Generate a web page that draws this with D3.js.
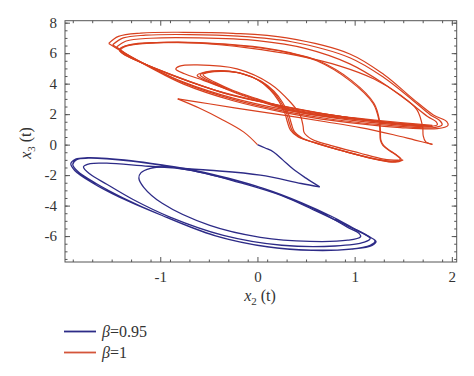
<!DOCTYPE html>
<html><head><meta charset="utf-8">
<script src="https://cdn.jsdelivr.net/npm/d3@7"></script>
<style>
html,body{margin:0;padding:0;background:#fff;}
svg{display:block;}
svg text{font-family:"Times New Roman","Liberation Serif",Tinos,"DejaVu Serif",serif !important;}
</style></head>
<body><svg id="c" width="474" height="376"></svg>
<script>
// ---------- data (x2, x3) ----------
const xTickValues = [-1, 0, 1, 2];
const yTickValues = [-6, -4, -2, 0, 2, 4, 6, 8];
const legendLabels = ["0.95", "1"];

// beta = 0.95
const blueTransient = [[0,0],[0.08,-0.22],[0.165,-0.48],[0.26,-1.0],[0.37,-1.62],[0.5,-2.2],[0.64,-2.77]];
const blueMiddle = [[0.64,-2.77],[0.45,-2.55],[0.03,-2.0],[-0.49,-1.68],[-1.12,-1.42],[-1.55,-1.22],[-1.72,-1.25],[-1.79,-1.46],[-1.72,-1.95],[-1.55,-2.6],[-1.28,-3.6],[-0.9,-4.75],[-0.35,-5.95],[0.25,-6.6],[0.8,-6.65],[1.1,-6.4],[1.16,-6.15],[1.08,-5.8],[0.9,-5.25],[0.6,-4.35],[0.25,-3.35],[-0.15,-2.55],[-0.6,-1.8],[-0.95,-1.45]];
const blueInner = [[-0.95,-1.45],[-1.1,-1.55],[-1.2,-1.85],[-1.22,-2.2],[-1.17,-2.8],[-0.98,-3.85],[-0.49,-5.3],[0.03,-6.08],[0.54,-6.35],[0.93,-6.27],[1.06,-6.05],[1.05,-5.85],[0.92,-5.4],[0.7,-4.6],[0.4,-3.7],[0.05,-2.85],[-0.3,-2.2],[-0.62,-1.72],[-1.0,-1.32],[-1.3,-1.05],[-1.55,-0.9],[-1.75,-0.86],[-1.87,-0.95],[-1.92,-1.25],[-1.88,-1.7],[-1.7,-2.5],[-1.42,-3.45],[-1.0,-4.6],[-0.45,-5.95],[0.1,-6.7],[0.55,-6.92],[0.95,-6.85],[1.16,-6.6],[1.21,-6.32],[1.14,-6.0],[0.98,-5.45],[0.76,-4.7],[0.45,-3.8],[0.1,-2.95],[-0.3,-2.25],[-0.6,-1.8],[-1.0,-1.35],[-1.3,-1.08],[-1.55,-0.93],[-1.74,-0.89],[-1.86,-0.98],[-1.9,-1.3],[-1.85,-1.75],[-1.66,-2.55],[-1.38,-3.5],[-0.98,-4.65],[-0.43,-5.98],[0.12,-6.72],[0.57,-6.94],[0.97,-6.86],[1.18,-6.62],[1.22,-6.35],[1.15,-6.05],[0.99,-5.5],[0.8,-4.85]];

// beta = 1
const redTransient = [[0,0],[-0.14,0.82],[-0.38,1.7],[-0.6,2.4],[-0.82,3.0]];
const redTipLine = [[-0.82,3.0],[-0.5,2.68],[-0.1,2.28],[0.3,1.9],[0.7,1.5],[1.06,1.12],[1.4,0.65],[1.62,0.3],[1.8,0.02]];
const redArcC = [[1.8,0.02],[1.73,0.2],[1.705,0.6],[1.7,1.15],[1.64,2.3],[1.47,3.25],[1.2,4.3],[0.85,5.15],[0.4,5.85],[-0.1,6.35],[-0.6,6.65],[-1.05,6.7],[-1.32,6.55],[-1.42,6.25],[-1.38,5.95],[-1.2,5.4],[-0.9,4.6],[-0.5,3.7],[-0.1,3.02],[0.3,2.45],[0.8,1.9],[1.3,1.45],[1.7,1.2]];
const redLoopA = [[-1.53,6.64],[-1.43,7.1],[-1.2,7.32],[-0.76,7.37],[-0.25,7.3],[0.3,7.0],[0.95,5.95],[1.3,4.6],[1.6,3.0],[1.81,1.95],[1.95,1.5],[1.96,1.25],[1.85,1.05],[1.47,1.12],[0.78,1.57],[0.27,2.12],[-0.25,2.88],[-0.76,3.97],[-1.1,5.05],[-1.38,6.05],[-1.53,6.64]];
const redLoopB = [[-1.49,6.55],[-1.38,7.0],[-1.15,7.18],[-0.7,7.22],[-0.2,7.12],[0.35,6.75],[0.95,5.7],[1.3,4.4],[1.6,2.9],[1.78,1.95],[1.88,1.55],[1.9,1.3],[1.82,1.12],[1.47,1.2],[0.78,1.65],[0.27,2.2],[-0.25,2.97],[-0.76,4.05],[-1.1,5.1],[-1.36,6.0],[-1.49,6.55]];
const redLoop3 = [[-1.45,6.4],[-1.35,6.8],[-1.1,6.98],[-0.6,7.0],[0.0,6.82],[0.5,6.3],[0.95,5.3],[1.3,4.0],[1.58,2.7],[1.75,1.85],[1.84,1.5],[1.85,1.3],[1.76,1.18],[1.47,1.28],[0.78,1.75],[0.27,2.3],[-0.25,3.05],[-0.76,4.1],[-1.1,5.1],[-1.35,5.95],[-1.45,6.4]];
const redInner1 = [[1.8,1.18],[1.47,1.35],[1.0,1.65],[0.6,1.95],[0.3,2.3],[0.0,2.9],[-0.25,3.45],[-0.45,4.0],[-0.58,4.35],[-0.62,4.55],[-0.55,4.75],[-0.38,4.86],[-0.2,4.72],[0.0,4.25],[0.13,3.6],[0.22,2.85],[0.28,2.1],[0.31,1.45],[0.34,0.95],[0.42,0.5],[0.6,0.1],[0.9,-0.45],[1.2,-0.92],[1.38,-1.08],[1.47,-0.95],[1.43,-0.7],[1.36,-0.4],[1.29,-0.05],[1.265,0.3],[1.26,0.9],[1.25,1.6],[1.19,2.7],[0.95,4.2],[0.61,5.5],[0.3,6.05],[-0.07,6.42],[-0.6,6.68],[-1.1,6.65],[-1.35,6.45],[-1.41,6.16],[-1.3,5.7],[-1.05,5.0],[-0.7,4.15],[-0.3,3.3],[0.2,2.6],[0.7,2.0],[1.2,1.55],[1.6,1.3],[1.8,1.18]];
const redInner2 = [[1.8,1.22],[1.47,1.4],[1.0,1.7],[0.6,2.0],[0.3,2.35],[0.0,2.95],[-0.25,3.5],[-0.45,4.05],[-0.56,4.4],[-0.59,4.58],[-0.52,4.76],[-0.36,4.84],[-0.18,4.7],[0.02,4.2],[0.15,3.55],[0.24,2.8],[0.3,2.05],[0.33,1.4],[0.36,0.9],[0.44,0.47],[0.62,0.07],[0.92,-0.48],[1.22,-0.96],[1.4,-1.12],[1.48,-0.98],[1.44,-0.72],[1.37,-0.42],[1.3,-0.06],[1.27,0.3],[1.265,0.9],[1.255,1.6],[1.2,2.7],[0.97,4.2],[0.63,5.5],[0.32,6.05],[-0.05,6.44],[-0.6,6.7],[-1.1,6.67],[-1.36,6.47],[-1.42,6.18],[-1.31,5.72],[-1.06,5.02],[-0.71,4.17],[-0.31,3.32],[0.19,2.62],[0.69,2.02],[1.19,1.57],[1.6,1.32],[1.8,1.22]];
const redInner3 = [[1.8,1.26],[1.47,1.45],[1.0,1.75],[0.6,2.05],[0.3,2.4],[0.0,3.0],[-0.25,3.55],[-0.44,4.1],[-0.54,4.45],[-0.56,4.6],[-0.5,4.74],[-0.34,4.8],[-0.16,4.66],[0.04,4.15],[0.17,3.5],[0.26,2.75],[0.32,2.0],[0.35,1.35],[0.38,0.85],[0.46,0.44],[0.64,0.04],[0.94,-0.52],[1.24,-1.0],[1.42,-1.15],[1.5,-1.0]];
const redMid = [[-0.3,3.6],[-0.55,4.2],[-0.75,4.65],[-0.84,4.95],[-0.8,5.15],[-0.62,5.23],[-0.21,4.97],[0.13,4.0],[0.34,2.78],[0.44,1.92],[0.47,1.2],[0.48,0.8],[0.56,0.35],[0.75,-0.05],[1.05,-0.55],[1.3,-0.95],[1.45,-1.02]];

// ---------- layout ----------
const svg = d3.select("#c");
const FONT = "'Times New Roman','Liberation Serif',Tinos,'DejaVu Serif',serif";
const x = d3.scaleLinear().domain([-1.98, 2.05]).range([65, 456.7]);
const y = d3.scaleLinear().domain([-7.7, 8.13]).range([262, 20.7]);

const blue = "#2d2b87", red = "#d8401e", frameCol = "#555";

const line = d3.line().x(d => x(d[0])).y(d => y(d[1])).curve(d3.curveCatmullRom.alpha(0.5));

const plot = svg.append("g");
[blueTransient, blueMiddle, blueInner].forEach(s =>
  plot.append("path").attr("d", line(s)).attr("fill","none").attr("stroke",blue).attr("stroke-width",1.3).attr("stroke-linejoin","round"));
[redTransient, redTipLine, redArcC, redLoopA, redLoopB, redLoop3, redInner1, redInner2, redInner3, redMid].forEach(s =>
  plot.append("path").attr("d", line(s)).attr("fill","none").attr("stroke",red).attr("stroke-width",1.2).attr("stroke-linejoin","round"));

// frame
svg.append("rect").attr("x",65).attr("y",20.7).attr("width",391.7).attr("height",241.3)
  .attr("fill","none").attr("stroke",frameCol).attr("stroke-width",1);

const xMinor = d3.range(-19, 21, 2).map(v => v/10);
const yMinor = d3.range(-15, 17, 1).map(v => v/2);
function tickG(g){ g.select(".domain").remove(); g.selectAll("line").attr("stroke",frameCol); g.attr("font-family", FONT); }

svg.append("g").attr("transform","translate(0,262)").call(d3.axisBottom(x).tickValues(xMinor).tickSize(-2.5).tickFormat("")).call(tickG);
svg.append("g").attr("transform","translate(0,20.7)").call(d3.axisTop(x).tickValues(xMinor).tickSize(-2.5).tickFormat("")).call(tickG);
svg.append("g").attr("transform","translate(65,0)").call(d3.axisLeft(y).tickValues(yMinor).tickSize(-2.5).tickFormat("")).call(tickG);
svg.append("g").attr("transform","translate(456.7,0)").call(d3.axisRight(y).tickValues(yMinor).tickSize(-2.5).tickFormat("")).call(tickG);

const xa = svg.append("g").attr("transform","translate(0,262)").call(d3.axisBottom(x).tickValues(xTickValues).tickSize(-5).tickPadding(9).tickFormat(d => String(d))).call(tickG);
xa.selectAll("text").attr("font-size",15).attr("fill","#333");
svg.append("g").attr("transform","translate(0,20.7)").call(d3.axisTop(x).tickValues(xTickValues).tickSize(-5).tickFormat("")).call(tickG);
const ya = svg.append("g").attr("transform","translate(65,0)").call(d3.axisLeft(y).tickValues(yTickValues).tickSize(-5).tickPadding(8).tickFormat(d => String(d))).call(tickG);
ya.selectAll("text").attr("font-size",15).attr("fill","#333");
svg.append("g").attr("transform","translate(456.7,0)").call(d3.axisRight(y).tickValues(yTickValues).tickSize(-5).tickFormat("")).call(tickG);

// axis titles
const xt = svg.append("text").attr("x",260).attr("y",301).attr("text-anchor","middle").attr("font-size",16).attr("fill","#333");
xt.append("tspan").attr("font-style","italic").text("x");
xt.append("tspan").attr("font-size",11).attr("dy",4).text("2");
xt.append("tspan").attr("dy",-4).text(" (t)");
const yt = svg.append("text").attr("transform","translate(31,143) rotate(-90)").attr("text-anchor","middle").attr("font-size",16).attr("fill","#333");
yt.append("tspan").attr("font-style","italic").text("x");
yt.append("tspan").attr("font-size",11).attr("dy",4).text("3");
yt.append("tspan").attr("dy",-4).text(" (t)");

// legend
const leg = svg.append("g");
[[blue, legendLabels[0], 331.5],[ "#d4553a", legendLabels[1], 352.5]].forEach(([c, lab, yy]) => {
  leg.append("line").attr("x1",64).attr("x2",96).attr("y1",yy).attr("y2",yy).attr("stroke",c).attr("stroke-width",1.8);
  const t = leg.append("text").attr("x",102).attr("y",yy+5).attr("font-size",16).attr("fill","#333");
  t.append("tspan").attr("font-style","italic").text("β");
  t.append("tspan").text("=" + lab);
});
</script></body></html>
